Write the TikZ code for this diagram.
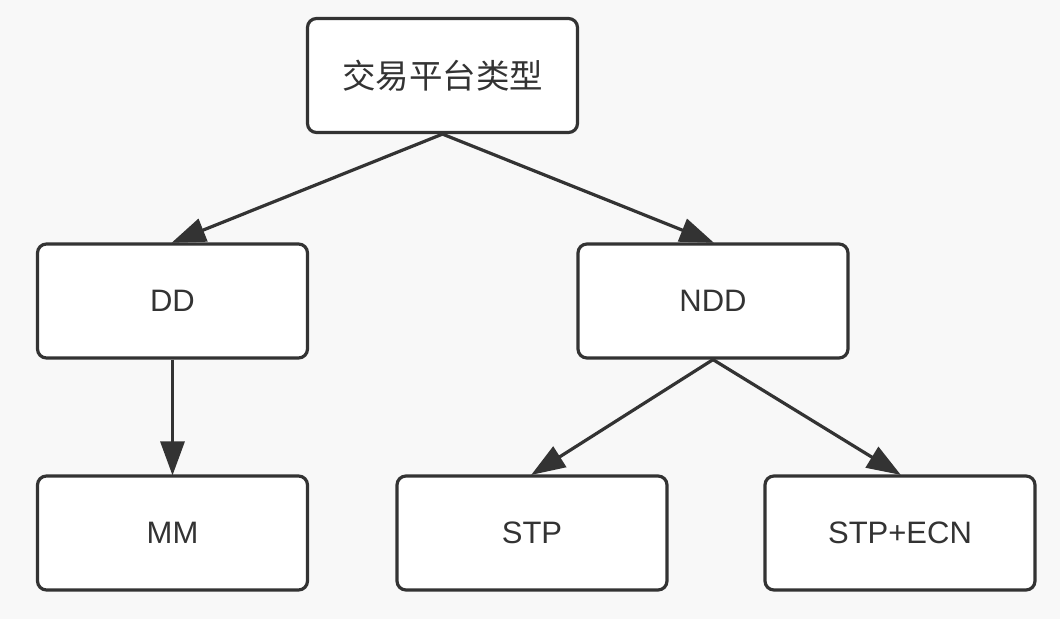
\documentclass[tikz,border=0pt]{standalone}
\usepackage{fontspec}
\setmainfont{Liberation Sans}
\newfontfamily\cjk{Noto Sans CJK SC}
\usetikzlibrary{arrows.meta}
\definecolor{bg}{HTML}{F8F8F8}
\definecolor{ink}{HTML}{333333}
\begin{document}
\begin{tikzpicture}[x=1pt,y=-1pt,
  box/.style={draw=ink, fill=white, line width=3.2pt, rounded corners=9pt,
    minimum width=270pt, minimum height=114pt, inner sep=0pt,
    font=\fontsize{31}{37}\selectfont, text=ink},
  link/.style={draw=ink, line width=3.2pt, -{Triangle[length=34pt,width=24pt]}, shorten >=-1pt}]
\fill[bg] (0,0) rectangle (1060,619);
\useasboundingbox (0,0) rectangle (1060,619);
\node[box] (root) at (442.5,75.5) {\cjk\fontsize{33.5}{40}\selectfont 交易平台类型};
\node[box] (dd) at (172.5,301) {DD};
\node[box] (ndd) at (713,301) {NDD};
\node[box] (mm) at (172.5,533) {MM};
\node[box] (stp) at (532,533) {STP};
\node[box] (ecn) at (900,533) {STP+ECN};
\draw[link] (root.south) -- (dd.north);
\draw[link] (root.south) -- (ndd.north);
\draw[link] (dd.south) -- (mm.north);
\draw[link] (ndd.south) -- (stp.north);
\draw[link] (ndd.south) -- (ecn.north);
\end{tikzpicture}
\end{document}
